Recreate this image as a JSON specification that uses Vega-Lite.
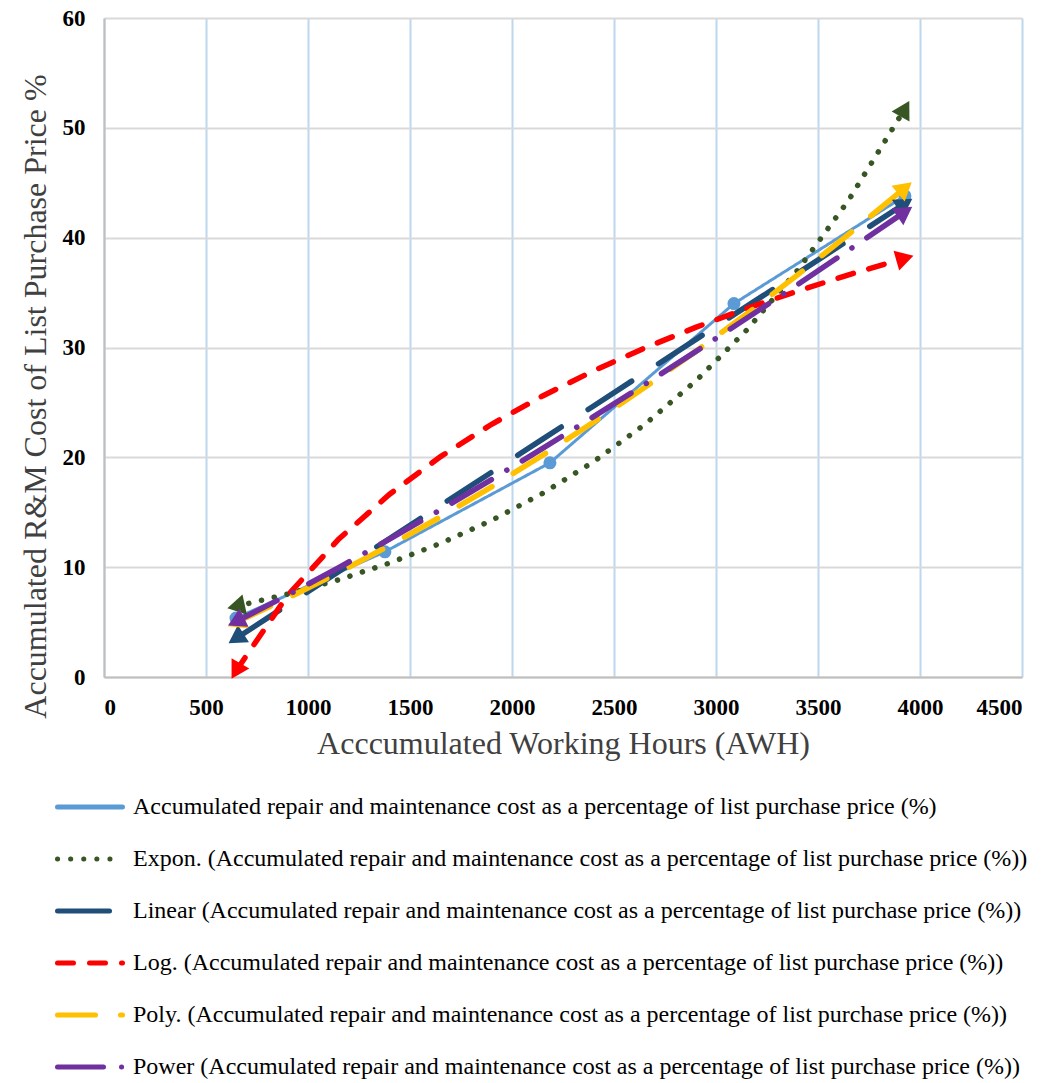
{
  "$schema": "https://vega.github.io/schema/vega-lite/v6.json",
  "autosize": {"type": "none"},
  "padding": {"left": 104, "top": 18, "right": 35, "bottom": 406},
  "width": 918,
  "height": 659,
  "background": "white",
  "config": {"view": {"stroke": null}},
  "datasets": {
    "obs": [
      {"k": "D", "x": 647, "y": 5.37},
      {"k": "D", "x": 1377, "y": 11.4},
      {"k": "D", "x": 2186, "y": 19.5},
      {"k": "D", "x": 3088, "y": 34.0},
      {"k": "D", "x": 3926, "y": 43.8}
    ],
    "trend": [
      {"k": "E", "x": 647, "y": 6.43}, {"k": "E", "x": 900, "y": 7.55}, {"k": "E", "x": 1150, "y": 8.85}, {"k": "E", "x": 1400, "y": 10.38}, {"k": "E", "x": 1650, "y": 12.17}, {"k": "E", "x": 1900, "y": 14.26}, {"k": "E", "x": 2150, "y": 16.72}, {"k": "E", "x": 2400, "y": 19.6}, {"k": "E", "x": 2650, "y": 22.98}, {"k": "E", "x": 2900, "y": 26.94}, {"k": "E", "x": 3150, "y": 31.58}, {"k": "E", "x": 3400, "y": 37.03}, {"k": "E", "x": 3650, "y": 43.41}, {"k": "E", "x": 3926, "y": 51.74},
      {"k": "L", "x": 647, "y": 3.51}, {"k": "L", "x": 900, "y": 6.57}, {"k": "L", "x": 1150, "y": 9.59}, {"k": "L", "x": 1400, "y": 12.61}, {"k": "L", "x": 1650, "y": 15.63}, {"k": "L", "x": 1900, "y": 18.64}, {"k": "L", "x": 2150, "y": 21.66}, {"k": "L", "x": 2400, "y": 24.68}, {"k": "L", "x": 2650, "y": 27.7}, {"k": "L", "x": 2900, "y": 30.72}, {"k": "L", "x": 3150, "y": 33.74}, {"k": "L", "x": 3400, "y": 36.76}, {"k": "L", "x": 3650, "y": 39.78}, {"k": "L", "x": 3926, "y": 43.11},
      {"k": "G", "x": 647, "y": 0.55}, {"k": "G", "x": 900, "y": 7.43}, {"k": "G", "x": 1150, "y": 12.54}, {"k": "G", "x": 1400, "y": 16.64}, {"k": "G", "x": 1650, "y": 20.07}, {"k": "G", "x": 1900, "y": 23.01}, {"k": "G", "x": 2150, "y": 25.59}, {"k": "G", "x": 2400, "y": 27.88}, {"k": "G", "x": 2650, "y": 29.95}, {"k": "G", "x": 2900, "y": 31.83}, {"k": "G", "x": 3150, "y": 33.55}, {"k": "G", "x": 3400, "y": 35.14}, {"k": "G", "x": 3650, "y": 36.62}, {"k": "G", "x": 3926, "y": 38.14},
      {"k": "P", "x": 647, "y": 4.96}, {"k": "P", "x": 900, "y": 7.18}, {"k": "P", "x": 1150, "y": 9.51}, {"k": "P", "x": 1400, "y": 11.98}, {"k": "P", "x": 1650, "y": 14.58}, {"k": "P", "x": 1900, "y": 17.32}, {"k": "P", "x": 2150, "y": 20.19}, {"k": "P", "x": 2400, "y": 23.21}, {"k": "P", "x": 2650, "y": 26.35}, {"k": "P", "x": 2900, "y": 29.64}, {"k": "P", "x": 3150, "y": 33.05}, {"k": "P", "x": 3400, "y": 36.61}, {"k": "P", "x": 3650, "y": 40.3}, {"k": "P", "x": 3926, "y": 44.53},
      {"k": "W", "x": 647, "y": 5.05}, {"k": "W", "x": 900, "y": 7.45}, {"k": "W", "x": 1150, "y": 9.95}, {"k": "W", "x": 1400, "y": 12.55}, {"k": "W", "x": 1650, "y": 15.23}, {"k": "W", "x": 1900, "y": 17.99}, {"k": "W", "x": 2150, "y": 20.81}, {"k": "W", "x": 2400, "y": 23.7}, {"k": "W", "x": 2650, "y": 26.63}, {"k": "W", "x": 2900, "y": 29.62}, {"k": "W", "x": 3150, "y": 32.66}, {"k": "W", "x": 3400, "y": 35.73}, {"k": "W", "x": 3650, "y": 38.86}, {"k": "W", "x": 3926, "y": 42.35}
    ]
  },
  "encoding": {
    "x": {
      "field": "x", "type": "quantitative",
      "scale": {"domain": [0, 4500], "nice": false},
      "axis": {
        "title": "Acccumulated Working Hours (AWH)",
        "values": [0, 500, 1000, 1500, 2000, 2500, 3000, 3500, 4000, 4500],
        "format": "d",
        "grid": true, "gridColor": "#BDD7EE", "gridWidth": 2,
        "domainColor": "#BFBFBF", "domainWidth": 2, "ticks": false,
        "labelFont": "Liberation Serif", "labelFontWeight": "bold", "labelFontSize": 23, "labelColor": "#000000", "labelPadding": 19,
        "titleFont": "Liberation Serif", "titleFontWeight": "normal", "titleFontSize": 32, "titleColor": "#404040", "titlePadding": 9
      }
    },
    "y": {
      "field": "y", "type": "quantitative",
      "scale": {"domain": [0, 60], "nice": false},
      "axis": {
        "title": "Accumulated R&M Cost of List Purchase Price %",
        "values": [0, 10, 20, 30, 40, 50, 60],
        "grid": true, "gridColor": "#D9D9D9", "gridWidth": 2,
        "domainColor": "#BFBFBF", "domainWidth": 2, "ticks": false,
        "labelFont": "Liberation Serif", "labelFontWeight": "bold", "labelFontSize": 23, "labelColor": "#000000", "labelPadding": 19,
        "titleFont": "Liberation Serif", "titleFontWeight": "normal", "titleFontSize": 32, "titleColor": "#404040",
        "titleX": -69, "titleY": 378, "titleBaseline": "middle", "titleAngle": -90, "titleAlign": "center"
      }
    }
  },
  "layer": [
    {
      "data": {"name": "obs"},
      "mark": {"type": "line", "strokeWidth": 3, "point": {"filled": true, "size": 170}},
      "encoding": {
        "color": {"field": "k", "type": "nominal",
          "scale": {"domain": ["D", "E", "L", "G", "P", "W"], "range": ["#5B9BD5", "#375623", "#1F4E79", "#FF0000", "#FFC000", "#7030A0"]},
          "legend": {
            "title": null, "orient": "none", "legendX": -49, "legendY": 754, "direction": "vertical", "padding": 0,
            "symbolType": "stroke", "symbolSize": 4225, "symbolStrokeWidth": 5, "rowPadding": 5,
            "labelFont": "Liberation Serif", "labelFontSize": 24, "labelColor": "#000000", "labelOffset": 8, "labelLimit": 1000,
            "encode": {"symbols": {"update": {"strokeCap": {"value": "round"}}}},
            "labelExpr": "{'D': 'Accumulated repair and maintenance cost as a percentage of list purchase price (%)', 'E': 'Expon. (Accumulated repair and maintenance cost as a percentage of list purchase price (%))', 'L': 'Linear (Accumulated repair and maintenance cost as a percentage of list purchase price (%))', 'G': 'Log. (Accumulated repair and maintenance cost as a percentage of list purchase price (%))', 'P': 'Poly. (Accumulated repair and maintenance cost as a percentage of list purchase price (%))', 'W': 'Power (Accumulated repair and maintenance cost as a percentage of list purchase price (%))'}[datum.label]"
          }
        },
        "strokeDash": {"field": "k", "type": "nominal",
          "scale": {"domain": ["D", "E", "L", "G", "P", "W"], "range": [[1, 0], [0.1, 13], [52, 32], [16, 16], [38, 25], [46, 18, 0.1, 18]]}
        }
      }
    },
    {
      "data": {"name": "trend"},
      "mark": {"type": "line", "strokeWidth": 5.5, "strokeCap": "round"},
      "encoding": {
        "color": {"field": "k", "type": "nominal"},
        "strokeDash": {"field": "k", "type": "nominal"}
      }
    },
    {"data": {"name": "trend"}, "transform": [{"filter": "datum.k === 'E' && datum.x === 3926"}], "mark": {"type": "point", "shape": "triangle-right", "filled": true, "size": 420, "angle": -60.5, "color": "#375623", "opacity": 1}, "encoding": {}},
    {"data": {"name": "trend"}, "transform": [{"filter": "datum.k === 'E' && datum.x === 647"}], "mark": {"type": "point", "shape": "triangle-right", "filled": true, "size": 420, "angle": 167.6, "color": "#375623", "opacity": 1}, "encoding": {}},
    {"data": {"name": "trend"}, "transform": [{"filter": "datum.k === 'L' && datum.x === 3926"}], "mark": {"type": "point", "shape": "triangle-right", "filled": true, "size": 420, "angle": -33, "color": "#1F4E79", "opacity": 1}, "encoding": {}},
    {"data": {"name": "trend"}, "transform": [{"filter": "datum.k === 'L' && datum.x === 647"}], "mark": {"type": "point", "shape": "triangle-right", "filled": true, "size": 420, "angle": 147, "color": "#1F4E79", "opacity": 1}, "encoding": {}},
    {"data": {"name": "trend"}, "transform": [{"filter": "datum.k === 'G' && datum.x === 3926"}], "mark": {"type": "point", "shape": "triangle-right", "filled": true, "size": 420, "angle": -16, "color": "#FF0000", "opacity": 1}, "encoding": {}},
    {"data": {"name": "trend"}, "transform": [{"filter": "datum.k === 'G' && datum.x === 647"}], "mark": {"type": "point", "shape": "triangle-right", "filled": true, "size": 420, "angle": 120, "color": "#FF0000", "opacity": 1}, "encoding": {}},
    {"data": {"name": "trend"}, "transform": [{"filter": "datum.k === 'P' && datum.x === 3926"}], "mark": {"type": "point", "shape": "triangle-right", "filled": true, "size": 420, "angle": -40, "color": "#FFC000", "opacity": 1}, "encoding": {}},
    {"data": {"name": "trend"}, "transform": [{"filter": "datum.k === 'P' && datum.x === 647"}], "mark": {"type": "point", "shape": "triangle-right", "filled": true, "size": 420, "angle": 155.4, "color": "#FFC000", "opacity": 1}, "encoding": {}},
    {"data": {"name": "trend"}, "transform": [{"filter": "datum.k === 'W' && datum.x === 3926"}], "mark": {"type": "point", "shape": "triangle-right", "filled": true, "size": 420, "angle": -34.4, "color": "#7030A0", "opacity": 1}, "encoding": {}},
    {"data": {"name": "trend"}, "transform": [{"filter": "datum.k === 'W' && datum.x === 647"}], "mark": {"type": "point", "shape": "triangle-right", "filled": true, "size": 420, "angle": 153.7, "color": "#7030A0", "opacity": 1}, "encoding": {}}
  ]
}
